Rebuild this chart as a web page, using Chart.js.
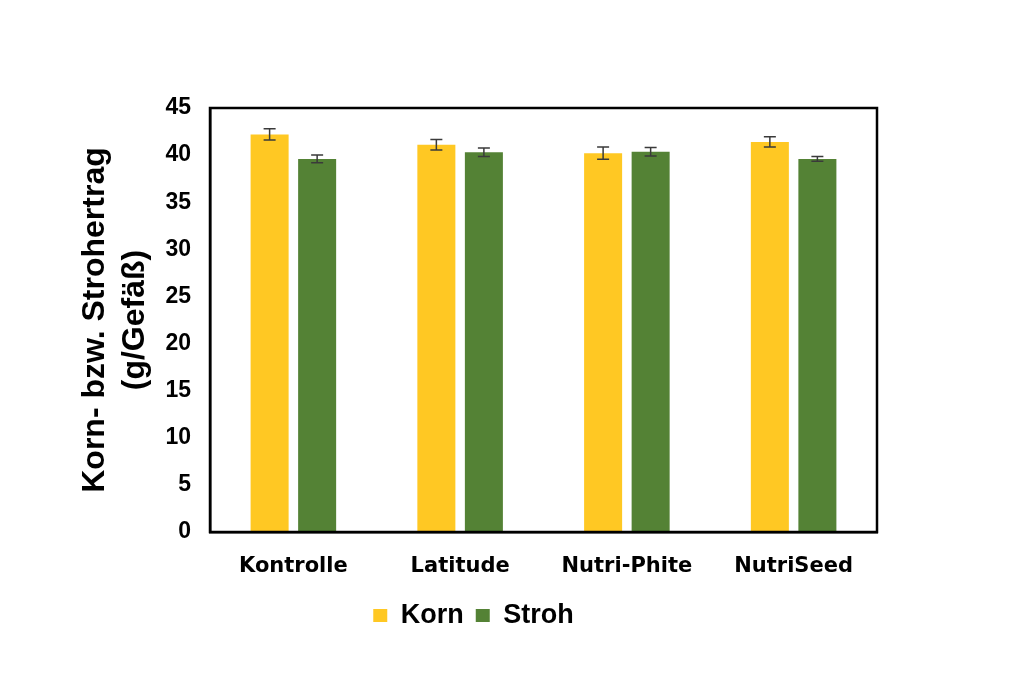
<!DOCTYPE html>
<html><head><meta charset="utf-8">
<script src="https://cdn.jsdelivr.net/npm/chart.js@4/dist/chart.umd.min.js"></script>
<style>html,body{margin:0;padding:0;background:#fff}#wrap{width:1024px;height:690px}</style>
</head><body><div id="wrap"><canvas id="c" width="1024" height="690"></canvas></div>
<script>
const categories = ["Kontrolle", "Latitude", "Nutri-Phite", "NutriSeed"];
const kornValues = [42.2, 41.1, 40.2, 41.4];
const kornErrors = [0.6, 0.55, 0.65, 0.55];
const strohValues = [39.6, 40.3, 40.35, 39.6];
const strohErrors = [0.4, 0.45, 0.45, 0.25];
const yTicks = [0, 5, 10, 15, 20, 25, 30, 35, 40, 45];

const errorBars = {
  id: 'errorBars',
  afterDatasetsDraw(chart) {
    const ctx = chart.ctx, y = chart.scales.y;
    chart.data.datasets.forEach((ds, i) => {
      const meta = chart.getDatasetMeta(i);
      meta.data.forEach((bar, j) => {
        const v = ds.data[j], e = ds.errors[j];
        const yt = y.getPixelForValue(v + e), yb = y.getPixelForValue(v - e);
        ctx.save();
        ctx.strokeStyle = '#3a3a3a'; ctx.lineWidth = 1.5;
        ctx.beginPath();
        ctx.moveTo(bar.x, yt); ctx.lineTo(bar.x, yb);
        ctx.moveTo(bar.x - 6, yt); ctx.lineTo(bar.x + 6, yt);
        ctx.moveTo(bar.x - 6, yb); ctx.lineTo(bar.x + 6, yb);
        ctx.stroke(); ctx.restore();
      });
    });
  }
};
const frame = {
  id: 'frame',
  afterDraw(chart) {
    const a = chart.chartArea, ctx = chart.ctx;
    ctx.save(); ctx.strokeStyle = '#000'; ctx.lineWidth = 2.5;
    ctx.strokeRect(a.left, a.top, a.right - a.left, a.bottom - a.top);
    ctx.restore();
  }
};

new Chart(document.getElementById('c'), {
  type: 'bar',
  data: {
    labels: categories,
    datasets: [
      {label: 'Korn', data: kornValues, errors: kornErrors, backgroundColor: '#FFC823', barPercentage: 0.8, categoryPercentage: 0.57},
      {label: 'Stroh', data: strohValues, errors: strohErrors, backgroundColor: '#548235', barPercentage: 0.8, categoryPercentage: 0.57}
    ]
  },
  options: {
    responsive: false, animation: false,
    layout: {padding: {left: 70, right: 147, top: 108, bottom: 51}},
    plugins: {
      legend: {position: 'bottom', labels: {color: '#000', font: {family: 'Liberation Sans', size: 27, weight: 'bold'}, boxWidth: 14, boxHeight: 13, padding: 12}},
      tooltip: {enabled: false}
    },
    scales: {
      x: {
        grid: {display: false, drawTicks: false},
        border: {color: '#000', width: 2.5},
        ticks: {color: '#000', font: {family: 'DejaVu Sans', size: 21, weight: 'bold'}, padding: 22},
        afterFit(s) { s.height = 58; }
      },
      y: {
        min: 0, max: 45,
        afterBuildTicks(s) { s.ticks = yTicks.map(v => ({value: v})); },
        grid: {display: false, drawOnChartArea: false, drawTicks: true, tickLength: 8, tickColor: '#000', tickWidth: 2},
        border: {color: '#000', width: 2.5},
        ticks: {color: '#000', font: {family: 'Liberation Sans', size: 23, weight: 'bold'}, padding: 11},
        title: {display: true, text: ['Korn- bzw. Strohertrag', '(g/Gefäß)'], color: '#000', font: {family: 'Liberation Sans', size: 32, weight: 'bold', lineHeight: 1.25}, padding: {top: 5, bottom: 0}},
        afterFit(s) { s.width = 140; }
      }
    }
  },
  plugins: [errorBars, frame]
});
</script></body></html>
